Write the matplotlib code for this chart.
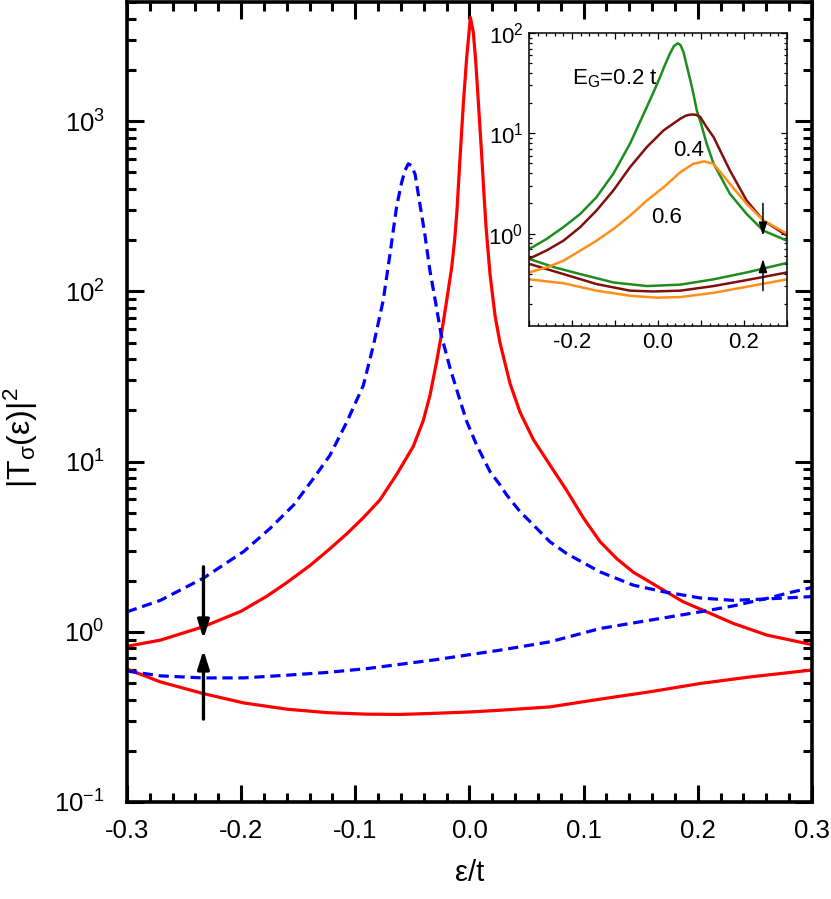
import numpy as np
import matplotlib
matplotlib.use('Agg')
import matplotlib.pyplot as plt
from matplotlib.ticker import LogLocator, MultipleLocator, NullFormatter

plt.rcParams['font.family'] = ['Liberation Sans', 'DejaVu Sans']
plt.rcParams['mathtext.fontset'] = 'custom'
plt.rcParams['mathtext.rm'] = 'Liberation Sans'
plt.rcParams['mathtext.it'] = 'Liberation Sans:italic'
plt.rcParams['axes.unicode_minus'] = False

# main panel: upper / lower branches, solid (red) and dashed (blue)
red_up_x = [-0.300, -0.2708, -0.2334, -0.2001, -0.1774, -0.1598, -0.1394, -0.1219, -0.1076, -0.093,
            -0.0784, -0.0638, -0.0492, -0.0405, -0.0346, -0.0287, -0.0249, -0.0199, -0.0156, -0.013,
            -0.011, -0.0083, -0.0054, -0.0025, 0.0008, 0.0034, 0.0055, 0.0077, 0.0107, 0.0127,
            0.0145, 0.018, 0.0224, 0.0267, 0.0355, 0.0443, 0.0559, 0.0705, 0.0852, 0.0997,
            0.1143, 0.129, 0.1435, 0.1698, 0.1873, 0.2078, 0.2311, 0.2604, 0.2998]
red_up_y = [0.822, 0.893, 1.07, 1.32, 1.62, 1.95, 2.46, 3.09, 3.76, 4.68,
            5.96, 8.4, 12.3, 17.4, 24.5, 38.9, 54.3, 89, 138, 200,
            295, 603, 1260, 2340, 4070, 3310, 2240, 1320, 631, 372,
            240, 126, 72, 50, 28.8, 19.5, 13.5, 9.55, 6.76, 4.68,
            3.39, 2.69, 2.24, 1.76, 1.50, 1.31, 1.12, 0.957, 0.841]

red_lo_x = [-0.300, -0.2708, -0.2334, -0.1978, -0.1598, -0.1248, -0.0898, -0.06, -0.03, 0.0,
            0.0267, 0.0705, 0.1143, 0.158, 0.2022, 0.2457, 0.2998]
red_lo_y = [0.604, 0.508, 0.434, 0.382, 0.351, 0.335, 0.328, 0.327, 0.332, 0.338,
            0.346, 0.362, 0.402, 0.444, 0.497, 0.543, 0.596]

blue_up_x = [-0.300, -0.2708, -0.2334, -0.1978, -0.1745, -0.154, -0.1365, -0.1222, -0.1076, -0.093,
             -0.0842, -0.0755, -0.0696, -0.0638, -0.0594, -0.0565, -0.0536, -0.051, -0.0477, -0.0448,
             -0.039, -0.0346, -0.0295, -0.0249, -0.017, -0.0098, -0.0024, 0.0063, 0.018, 0.0267,
             0.0326, 0.0443, 0.0501, 0.0559, 0.0705, 0.0852, 0.1143, 0.1435, 0.1698, 0.2022,
             0.2311, 0.2604, 0.2998]
blue_up_y = [1.31, 1.53, 2.06, 2.96, 4.06, 5.56, 7.98, 10.9, 17, 28,
             48, 89, 166, 316, 437, 513, 562, 550, 490, 372,
             214, 132, 85, 56, 35.4, 24.7, 17.2, 12.5, 8.73, 7.3,
             6.37, 5.08, 4.65, 4.25, 3.38, 2.88, 2.25, 1.88, 1.72, 1.58,
             1.53, 1.56, 1.61]

blue_lo_x = [-0.300, -0.2708, -0.2334, -0.1978, -0.1598, -0.1248, -0.0898, -0.03, 0.0267, 0.0705,
             0.1143, 0.158, 0.2022, 0.2311, 0.2604, 0.2806, 0.2998]
blue_lo_y = [0.588, 0.551, 0.536, 0.536, 0.556, 0.577, 0.608, 0.685, 0.78, 0.873,
             1.045, 1.17, 1.31, 1.42, 1.57, 1.70, 1.82]

# inset: three gap values
gap_labels = ['E$_\\mathregular{G}$=0.2 t', '0.4', '0.6']
gap_colors = ['#1e8c1e', '#800f0f', '#ff8f1a']

g_up_x = [-0.300, -0.259, -0.220, -0.181, -0.143, -0.104, -0.065, -0.026, -0.010, 0.005, 0.016,
          0.028, 0.037, 0.046, 0.052, 0.059, 0.068, 0.075, 0.083, 0.090, 0.100, 0.113, 0.129,
          0.167, 0.206, 0.245, 0.300]
g_up_y = [0.70, 0.885, 1.16, 1.57, 2.31, 3.95, 7.9, 18.3, 26, 36.6, 48,
          62.7, 74, 79, 76, 65, 45, 33.9, 24, 17, 12.5, 7.9, 5.0,
          2.5, 1.57, 1.07, 0.85]
m_up_x = [-0.300, -0.259, -0.220, -0.181, -0.143, -0.104, -0.065, -0.026, 0.013, 0.052, 0.065,
          0.077, 0.088, 0.098, 0.113, 0.129, 0.167, 0.206, 0.245, 0.300]
m_up_y = [0.56, 0.68, 0.85, 1.16, 1.70, 2.69, 4.6, 7.3, 10.7, 14, 15,
          15.4, 15.3, 14.6, 11.5, 9.2, 4.27, 2.14, 1.35, 0.955]
o_up_x = [-0.300, -0.259, -0.220, -0.181, -0.143, -0.104, -0.065, -0.026, 0.013, 0.052, 0.082,
          0.107, 0.129, 0.167, 0.206, 0.245, 0.300]
o_up_y = [0.41, 0.46, 0.537, 0.676, 0.85, 1.11, 1.51, 2.14, 2.9, 4.1, 4.97,
          5.25, 4.97, 3.14, 1.98, 1.35, 1.0]

g_lo_x = [-0.300, -0.240, -0.181, -0.104, -0.026, 0.052, 0.129, 0.206, 0.300]
g_lo_y = [0.56, 0.46, 0.395, 0.326, 0.30, 0.31, 0.35, 0.41, 0.51]
m_lo_x = [-0.300, -0.220, -0.143, -0.065, -0.011, 0.052, 0.129, 0.206, 0.300]
m_lo_y = [0.50, 0.395, 0.314, 0.27, 0.265, 0.27, 0.30, 0.344, 0.41]
o_lo_x = [-0.300, -0.220, -0.143, -0.065, -0.003, 0.052, 0.129, 0.206, 0.300]
o_lo_y = [0.35, 0.32, 0.27, 0.24, 0.23, 0.233, 0.257, 0.295, 0.35]

fig = plt.figure(figsize=(8.31, 8.99), dpi=100)
ax = fig.add_axes([0.1528, 0.1079, 0.8243, 0.8896])

ax.plot(red_up_x, red_up_y, color='#ff0000', lw=2.3)
ax.plot(red_lo_x, red_lo_y, color='#ff0000', lw=2.3)
ax.plot(blue_up_x, blue_up_y, color='#0000ff', lw=2.3, ls=(0, (3.2, 1.8)))
ax.plot(blue_lo_x, blue_lo_y, color='#0000ff', lw=2.3, ls=(0, (3.2, 1.8)))

ax.set_yscale('log')
ax.set_xlim(-0.3, 0.3)
ax.set_ylim(0.1, 5000)
ax.xaxis.set_major_locator(MultipleLocator(0.1))
ax.xaxis.set_minor_locator(MultipleLocator(0.02))
ax.xaxis.set_major_formatter(plt.FuncFormatter(lambda v, p: f'{v:.1f}'.replace('-0.0', '0.0')))
ax.yaxis.set_major_locator(LogLocator(base=10, numticks=10))
ax.yaxis.set_minor_locator(LogLocator(base=10, subs=np.arange(2, 10), numticks=20))
ax.yaxis.set_minor_formatter(NullFormatter())
ax.yaxis.set_major_formatter(plt.FuncFormatter(lambda v, p: '10$^{%d}$' % round(np.log10(v))))
ax.tick_params(which='both', direction='in', top=True, right=True, width=2.2)
ax.tick_params(which='major', length=12, labelsize=18.5)
ax.tick_params(axis='x', which='major', pad=12)
ax.tick_params(axis='y', which='major', pad=16)
ax.tick_params(which='minor', length=6.5)
for s in ax.spines.values():
    s.set_linewidth(2.6)

ax.set_xlabel('ε/t', fontsize=21, labelpad=12)
ax.set_ylabel('|T$_{\\mathregular{σ}}$(ε)|$^{\\mathregular{2}}$', fontsize=23)
ax.yaxis.set_label_coords(-0.127, 0.455)

arr = dict(arrowstyle='-|>,head_width=0.35,head_length=1.1', color='black', lw=2.4, shrinkA=0, shrinkB=0)
ax.annotate('', xy=(-0.233, 0.91), xytext=(-0.233, 2.41), arrowprops=arr)
ax.annotate('', xy=(-0.233, 0.78), xytext=(-0.233, 0.307), arrowprops=arr)

# inset
ins = fig.add_axes([0.6366, 0.6374, 0.3105, 0.3259])
ups = [(g_up_x, g_up_y), (m_up_x, m_up_y), (o_up_x, o_up_y)]
los = [(g_lo_x, g_lo_y), (m_lo_x, m_lo_y), (o_lo_x, o_lo_y)]
for (ux, uy), (lx, ly), c in zip(ups, los, gap_colors):
    ins.plot(ux, uy, color=c, lw=1.8)
    ins.plot(lx, ly, color=c, lw=1.8)
ins.set_yscale('log')
ins.set_xlim(-0.3, 0.3)
ins.set_ylim(0.12, 100)
ins.xaxis.set_major_locator(MultipleLocator(0.1))
ins.xaxis.set_minor_locator(MultipleLocator(0.02))
ins.xaxis.set_major_formatter(plt.FuncFormatter(
    lambda v, p: f'{v:.1f}'.replace('-0.0', '0.0') if round(v * 10) % 2 == 0 else ''))
ins.yaxis.set_major_locator(LogLocator(base=10, numticks=10))
ins.yaxis.set_minor_locator(LogLocator(base=10, subs=np.arange(2, 10), numticks=20))
ins.yaxis.set_minor_formatter(NullFormatter())
ins.yaxis.set_major_formatter(plt.FuncFormatter(lambda v, p: '10$^{%d}$' % round(np.log10(v))))
ins.tick_params(which='both', direction='in', top=True, right=True, width=0.9, labelsize=16, pad=4)
ins.tick_params(which='major', length=4.5)
ins.tick_params(which='minor', length=2.3)
for s in ins.spines.values():
    s.set_linewidth(1.1)

ins.text(-0.2, 35, gap_labels[0], fontsize=16, ha='left', va='center')
ins.text(0.034, 6.8, gap_labels[1], fontsize=16, ha='left', va='center')
ins.text(-0.015, 1.45, gap_labels[2], fontsize=16, ha='left', va='center')

arr2 = dict(arrowstyle='-|>,head_width=0.25,head_length=0.8', color='black', lw=1.1, shrinkA=0, shrinkB=0)
ins.annotate('', xy=(0.244, 0.95), xytext=(0.244, 2.0), arrowprops=arr2)
ins.annotate('', xy=(0.244, 0.56), xytext=(0.244, 0.27), arrowprops=arr2)

fig.savefig('out.png', dpi=100)
